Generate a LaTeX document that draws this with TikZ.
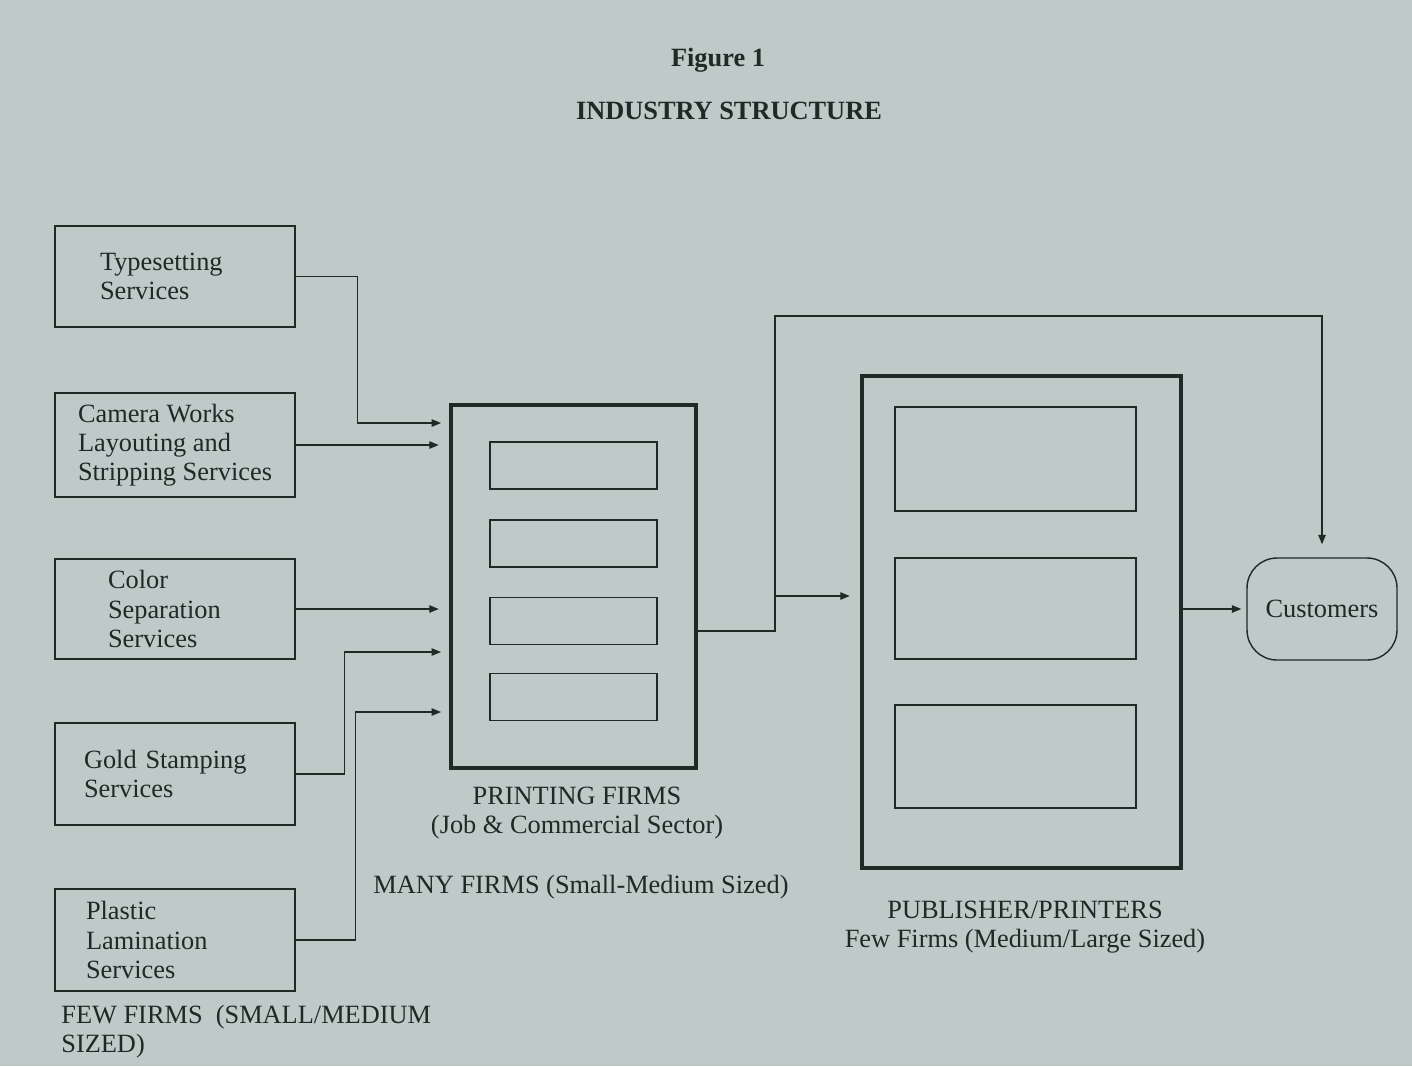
\documentclass[tikz,border=0pt]{standalone}
\usepackage{fontspec}
\setmainfont{Liberation Serif}
\usetikzlibrary{arrows.meta}

\definecolor{paper}{RGB}{190, 201, 200}
\definecolor{ink}{RGB}{30, 42, 38}

\tikzset{
    svcbox/.style={draw=ink, line width=0.9pt, minimum width=4.8cm, align=left, inner ysep=0pt},
    firmbox/.style={draw=ink, line width=2.6pt, inner sep=0pt},
    slotbox/.style={draw=ink, line width=0.8pt, inner sep=0pt},
    flow/.style={draw=ink, line width=0.7pt, -{Triangle[length=0.19cm, width=0.15cm]}},
    caption/.style={align=center, text=ink}
}

\begin{document}
\begin{tikzpicture}[
    x=0.02cm, y=-0.02cm,
    font=\fontsize{15}{16.6}\selectfont, text=ink
]

% Paper
\fill[paper] (0,0) rectangle (1412,1066);
\useasboundingbox (0,0) rectangle (1412,1066);

% Title
\node[font=\fontsize{15}{16.6}\selectfont\bfseries] (fig) at (718, 60) {Figure 1};
\node[font=\fontsize{15}{16.6}\selectfont\bfseries] (title) at (729, 111) {INDUSTRY STRUCTURE};

% Supplier services (left column)
\node[svcbox, minimum height=2.02cm, inner xsep=0.9cm, text width=3.0cm] (type) at (175, 276.5) {Typesetting\\Services};
\node[svcbox, minimum height=2.08cm, inner xsep=0pt] (cam) at (175, 445) {Camera Works\\Layouting and\\Stripping Services};
\node[svcbox, minimum height=2.0cm, inner xsep=1.06cm, text width=2.68cm] (color) at (175, 609) {Color\\Separation\\Services};
\node[svcbox, minimum height=2.04cm, inner xsep=0.58cm, text width=3.64cm] (gold) at (175, 774) {Gold Stamping\\Services};
\node[svcbox, minimum height=2.04cm, inner xsep=0.62cm, text width=3.56cm] (plastic) at (175, 940) {Plastic\\Lamination\\Services};
\node[anchor=north west, align=left, inner sep=0pt] (fewlbl) at (61, 1005) {FEW FIRMS\ \ (SMALL/MEDIUM\\SIZED)};

% Printing firms
\node[firmbox, minimum width=4.9cm, minimum height=7.26cm] (prt) at (573.5, 586.5) {};
\foreach \y [count=\i] in {465.5, 543.5, 621, 697} {
    \node[slotbox, minimum width=3.34cm, minimum height=0.94cm] (pf\i) at (573.5, \y) {};
}
\node[caption] (prtlbl) at (577, 813) {PRINTING FIRMS\\(Job \& Commercial Sector)};
\node[caption] (manylbl) at (581, 887) {MANY FIRMS (Small-Medium Sized)};

% Publisher/printers
\node[firmbox, minimum width=6.38cm, minimum height=9.84cm] (pub) at (1021.5, 622) {};
\node[slotbox, minimum width=4.82cm, minimum height=2.08cm] (pp1) at (1015.5, 459) {};
\node[slotbox, minimum width=4.82cm, minimum height=2.02cm] (pp2) at (1015.5, 608.5) {};
\node[slotbox, minimum width=4.82cm, minimum height=2.06cm] (pp3) at (1015.5, 756.5) {};
\node[caption] (publbl) at (1025, 927) {PUBLISHER/PRINTERS\\Few Firms (Medium/Large Sized)};

% Customers
\node[draw=ink, line width=0.8pt, rounded corners=0.6cm, minimum width=3.0cm, minimum height=2.04cm] (cust) at (1322, 609) {Customers};

% Junction points
\coordinate (in1) at (441, 423);
\coordinate (in4) at (441, 652);
\coordinate (in5) at (441, 712);
\coordinate (jn) at (775, 631);
\coordinate (br) at (775, 596);
\coordinate (top) at (1322, 316);

% Suppliers to printing firms
\draw[flow] (type.east) -- ++(62,0) |- (in1);
\draw[flow, shorten >=0.2cm] (cam.east) -- (cam.east -| prt.west);
\draw[flow, shorten >=0.2cm] (color.east) -- (color.east -| prt.west);
\draw[flow] (gold.east) -- ++(49,0) |- (in4);
\draw[flow] (plastic.east) -- ++(60,0) |- (in5);

% Printing firms to publishers and customers
\draw[flow, shorten >=0.26cm] (prt.east |- jn) -- (jn) |- (top) -- (cust.north);
\draw[flow, shorten >=0.2cm] (br) -- (br -| pub.west);
\draw[flow, shorten >=0.1cm] (cust.west -| pub.east) -- (cust.west);

\end{tikzpicture}
\end{document}
